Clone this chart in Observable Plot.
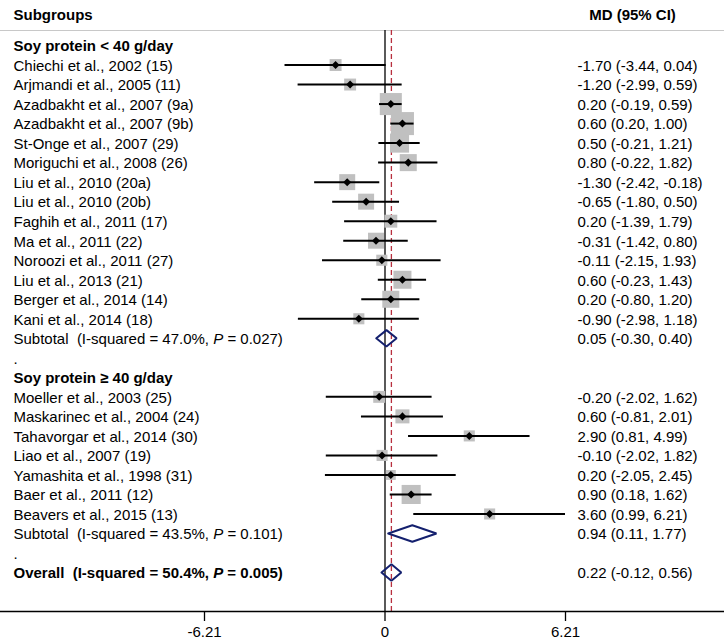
<!DOCTYPE html>
<html>
<head>
<meta charset="utf-8">
<script src="https://cdn.jsdelivr.net/npm/d3@7"></script>
<script src="https://cdn.jsdelivr.net/npm/@observablehq/plot@0.6"></script>
<style>
  html, body { margin: 0; padding: 0; background: #fff; }
  svg { display: block; }
  svg text { white-space: pre; }
</style>
</head>
<body>
<div id="chart"></div>
<script>
// ---------- DATA ----------
const group1Label = "Soy protein < 40 g/day";
const group1Studies = [
  "Chiechi et al., 2002 (15)", "Arjmandi et al., 2005 (11)", "Azadbakht et al., 2007 (9a)",
  "Azadbakht et al., 2007 (9b)", "St-Onge et al., 2007 (29)", "Moriguchi et al., 2008 (26)",
  "Liu et al., 2010 (20a)", "Liu et al., 2010 (20b)", "Faghih et al., 2011 (17)",
  "Ma et al., 2011 (22)", "Noroozi et al., 2011 (27)", "Liu et al., 2013 (21)",
  "Berger et al., 2014 (14)", "Kani et al., 2014 (18)"
];
const group1MD = [-1.70, -1.20, 0.20, 0.60, 0.50, 0.80, -1.30, -0.65, 0.20, -0.31, -0.11, 0.60, 0.20, -0.90];
const group1Lo = [-3.44, -2.99, -0.19, 0.20, -0.21, -0.22, -2.42, -1.80, -1.39, -1.42, -2.15, -0.23, -0.80, -2.98];
const group1Hi = [0.04, 0.59, 0.59, 1.00, 1.21, 1.82, -0.18, 0.50, 1.79, 0.80, 1.93, 1.43, 1.20, 1.18];
const group1Weight = [2.9, 2.9, 9.9, 10.8, 7.4, 5.9, 5.2, 5.2, 3.4, 5.2, 2.5, 6.6, 5.9, 2.5];
const group1Subtotal = {label: "Subtotal  (I-squared = 47.0%, P = 0.027)", md: 0.05, lo: -0.30, hi: 0.40};

const group2Label = "Soy protein \u2265 40 g/day";
const group2Studies = [
  "Moeller et al., 2003 (25)", "Maskarinec et al., 2004 (24)", "Tahavorgar et al., 2014 (30)",
  "Liao et al., 2007 (19)", "Yamashita et al., 1998 (31)", "Baer et al., 2011 (12)",
  "Beavers et al., 2015 (13)"
];
const group2MD = [-0.20, 0.60, 2.90, -0.10, 0.20, 0.90, 3.60];
const group2Lo = [-2.02, -0.81, 0.81, -2.02, -2.05, 0.18, 0.99];
const group2Hi = [1.62, 2.01, 4.99, 1.82, 2.45, 1.62, 6.21];
const group2Weight = [2.9, 4.0, 2.5, 2.5, 2.0, 7.4, 2.5];
const group2Subtotal = {label: "Subtotal  (I-squared = 43.5%, P = 0.101)", md: 0.94, lo: 0.11, hi: 1.77};

const overall = {label: "Overall  (I-squared = 50.4%, P = 0.005)", md: 0.22, lo: -0.12, hi: 0.56};

const axisTicks = [-6.21, 0, 6.21];
const headerLeft = "Subgroups";
const headerRight = "MD (95% CI)";

// ---------- BUILD ROWS ----------
const rows = [];
let r = 0;
function addGroup(label, names, md, lo, hi, w, sub) {
  rows.push({row: r++, type: "header", label});
  names.forEach((n, i) => rows.push({row: r++, type: "study", label: n, md: md[i], lo: lo[i], hi: hi[i], w: w[i]}));
  rows.push({row: r++, type: "subtotal", label: sub.label, md: sub.md, lo: sub.lo, hi: sub.hi});
  rows.push({row: r++, type: "spacer", label: "."});
}
addGroup(group1Label, group1Studies, group1MD, group1Lo, group1Hi, group1Weight, group1Subtotal);
addGroup(group2Label, group2Studies, group2MD, group2Lo, group2Hi, group2Weight, group2Subtotal);
rows.push({row: r++, type: "overall", label: overall.label, md: overall.md, lo: overall.lo, hi: overall.hi});

const fmt = v => v.toFixed(2);
rows.forEach(d => { if (d.md !== undefined) d.ci = `${fmt(d.md)} (${fmt(d.lo)}, ${fmt(d.hi)})`; });

const studies = rows.filter(d => d.type === "study");
const pooled = rows.filter(d => d.type === "subtotal" || d.type === "overall");
const normalText = rows.filter(d => d.type === "study" || d.type === "subtotal" || d.type === "spacer");
const boldText = rows.filter(d => d.type === "header" || d.type === "overall");
const valueRows = rows.filter(d => d.ci);

// ---------- LAYOUT ----------
const W = 724, H = 642;
const ROW0 = 45, STEP = 19.52, AXIS_PX = 611, TOPLINE_PX = 30;
const toRow = px => (px - ROW0) / STEP;
const yTop = toRow(0), yAxis = toRow(AXIS_PX), yLine = toRow(TOPLINE_PX);
const DH = 0.42; // diamond half-height in rows

const diamonds = pooled.flatMap(d => [
  {row: d.row, x: d.lo, y: d.row},
  {row: d.row, x: d.md, y: d.row - DH},
  {row: d.row, x: d.hi, y: d.row},
  {row: d.row, x: d.md, y: d.row + DH},
  {row: d.row, x: d.lo, y: d.row}
]);

const rotSquare = {
  draw(ctx, size) {
    const h = Math.sqrt(size / 2);
    ctx.moveTo(0, -h); ctx.lineTo(h, 0); ctx.lineTo(0, h); ctx.lineTo(-h, 0); ctx.closePath();
  }
};

const FONT = "'Liberation Sans', Arial, Helvetica, sans-serif";
const FS = 15;
const pxPerUnit = (565 - 384.5) / 6.21;

const chart = Plot.plot({
  width: W,
  height: H,
  marginTop: 0,
  marginBottom: H - AXIS_PX,
  marginLeft: 0,
  marginRight: 0,
  style: {fontFamily: FONT, fontSize: FS + "px", background: "#fff", color: "#000"},
  x: {domain: [-384.5 / pxPerUnit, (W - 384.5) / pxPerUnit], range: [0, W]},
  y: {domain: [yTop, yAxis], range: [0, AXIS_PX], axis: null},
  r: {type: "sqrt", domain: [0, 10.8], range: [0, 13]},
  marks: [
    Plot.ruleY([yLine], {stroke: "#c8c8c8", strokeWidth: 1}),
    Plot.ruleX([0], {y1: yLine, y2: yAxis, stroke: "#000", strokeWidth: 1.3}),
    Plot.ruleX([overall.md], {y1: yLine, y2: yAxis, stroke: "#b8303f", strokeWidth: 1.3, strokeDasharray: "5,3"}),
    Plot.dot(studies, {x: "md", y: "row", r: "w", symbol: "square", fill: "#c0c0c0", stroke: null}),
    Plot.ruleY(studies, {y: "row", x1: "lo", x2: "hi", stroke: "#000", strokeWidth: 2}),
    Plot.dot(studies, {x: "md", y: "row", r: 3.2, symbol: rotSquare, fill: "#000", stroke: null}),
    Plot.line(diamonds, {x: "x", y: "y", z: "row", stroke: "#14206e", strokeWidth: 2, strokeLinejoin: "miter", fill: "none"}),
    Plot.ruleY([yAxis], {stroke: "#000", strokeWidth: 1.3}),
    Plot.axisX(axisTicks, {anchor: "bottom", tickSize: 10, tickPadding: 5, strokeWidth: 1.3,
      tickFormat: d => d === 0 ? "0" : d.toFixed(2), fontSize: FS, fill: "#000", stroke: "#000"}),
    // header texts
    Plot.text([headerLeft], {frameAnchor: "top-left", dx: 13, dy: 9, textAnchor: "start", fontWeight: "bold", fontSize: FS, fill: "#000"}),
    Plot.text([headerRight], {frameAnchor: "top-right", dx: 632 - W, dy: 9, textAnchor: "middle", fontWeight: "bold", fontSize: FS, fill: "#000"}),
    // left labels
    Plot.text(normalText, {y: "row", text: "label", frameAnchor: "left", dx: 13, dy: 1, textAnchor: "start", fontSize: FS, fill: "#000"}),
    Plot.text(boldText, {y: "row", text: "label", frameAnchor: "left", dx: 13, dy: 1, textAnchor: "start", fontWeight: "bold", fontSize: FS, fill: "#000"}),
    // right values
    Plot.text(valueRows, {y: "row", text: "ci", frameAnchor: "right", dx: 577 - W, dy: 1, textAnchor: "start", fontSize: FS, fill: "#000"})
  ]
});

// italic "P" in the heterogeneity labels
const ns = "http://www.w3.org/2000/svg";
chart.querySelectorAll("text").forEach(t => {
  const s = t.textContent;
  const k = s.indexOf("P =");
  if (k >= 0 && t.children.length === 0) {
    t.textContent = "";
    const a = document.createElementNS(ns, "tspan"); a.textContent = s.slice(0, k);
    const b = document.createElementNS(ns, "tspan"); b.textContent = "P"; b.setAttribute("font-style", "italic");
    const c = document.createElementNS(ns, "tspan"); c.textContent = s.slice(k + 1);
    t.append(a, b, c);
  }
});

document.getElementById("chart").appendChild(chart);
</script>
</body>
</html>
